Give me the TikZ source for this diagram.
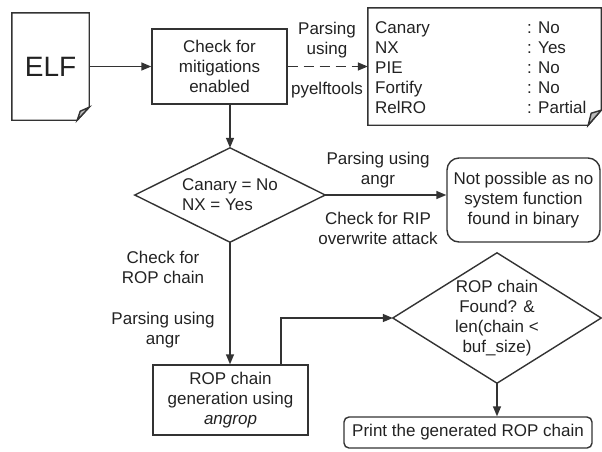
\documentclass[tikz,border=0pt]{standalone}
\usepackage{fontspec}
\setmainfont{Liberation Sans}
\usetikzlibrary{arrows.meta}
\definecolor{lc}{HTML}{333333}
\definecolor{txt}{HTML}{222222}
\definecolor{flap}{HTML}{BBBBBB}
\begin{document}
\begin{tikzpicture}[x=1pt,y=-1pt,
  every node/.style={font=\fontsize{17}{20}\selectfont, text=txt},
  ln/.style={draw=lc, line width=1.4pt},
  arr/.style={ln, -{Triangle[length=10pt,width=8pt]}},
  box/.style={ln, rectangle, inner sep=0pt, align=center},
  lbl/.style={align=center, inner sep=0pt},
  anchorbox/.style={rectangle, inner sep=0pt, draw=none},
]
\useasboundingbox (0,0) rectangle (602,451);

% ELF document
\node[anchorbox, minimum width=77pt, minimum height=107pt,
      font=\fontsize{28}{30}\selectfont] (elf) at (50.5,66.5) {ELF};
\draw[ln] (elf.north west) -- (elf.north east) -- ([yshift=13pt]elf.south east)
  -- ([xshift=-12pt]elf.south east) -- (elf.south west) -- cycle;
\draw[ln, fill=flap] ([yshift=13pt]elf.south east) -- ([xshift=-9pt,yshift=9pt]elf.south east)
  -- ([xshift=-12pt]elf.south east) -- cycle;

% Check box
\node[box, minimum width=135pt, minimum height=75pt] (check) at (219.5,66.5) {Check for\\mitigations\\enabled};
\draw[arr] (elf.east) -- (check.west);

% Mitigation box
\node[anchorbox, minimum width=233pt, minimum height=117pt] (mit) at (484.5,66.5) {};
\draw[ln] ([yshift=15pt]mit.south east) -- (mit.north east) -- (mit.north west)
  -- (mit.south west) -- ([xshift=-13pt]mit.south east) -- cycle;
\draw[ln, fill=flap] ([xshift=-13pt]mit.south east) -- ([yshift=15pt]mit.south east)
  -- ([xshift=-10pt,yshift=12pt]mit.south east) -- cycle;
\node[anchor=north west, inner sep=0pt] (mittab) at (375,19) {\begin{tabular}{@{}p{152pt}@{}l@{}}
Canary & : No\\
NX & : Yes\\
PIE & : No\\
Fortify & : No\\
RelRO & : Partial
\end{tabular}};
\draw[arr, dash pattern=on 10pt off 6pt] (check.east) -- (mit.west);
\node[lbl] (lp1) at (327,40) {Parsing\\using};
\node[lbl] (lp2) at (327,90) {pyelftools};

% Diamond 1
\node[anchorbox, minimum width=190pt, minimum height=94pt, align=left] (d1) at (230,195) {Canary = No\\NX = Yes};
\draw[ln] (d1.north) -- (d1.east) -- (d1.south) -- (d1.west) -- cycle;
\draw[arr] (check.south -| d1.north) -- (d1.north);

% Not possible box
\node[box, rounded corners=12pt, minimum width=153pt, minimum height=84pt] (np) at (523.5,200) {Not possible as no\\system function\\found in binary};
\draw[arr] (d1.east) -- (d1.east -| np.west);
\node[lbl] (la1) at (378,170) {Parsing using\\angr};
\node[lbl] (la2) at (378,228) {Check for RIP\\overwrite attack};

% ROP box
\node[box, minimum width=155pt, minimum height=70pt] (rop) at (230.5,400) {ROP chain\\generation using\\\textit{angrop}};
\draw[arr] (d1.south) -- (d1.south |- rop.north);
\node[lbl] (lr1) at (163,267) {Check for\\ROP chain};
\node[lbl] (lr2) at (163,330) {Parsing using\\angr};

% Diamond 2
\node[anchorbox, minimum width=208pt, minimum height=130pt, align=center] (d2) at (497,318) {ROP chain\\Found? \&\\len(chain <\\buf\_size)};
\draw[ln] (d2.north) -- (d2.east) -- (d2.south) -- (d2.west) -- cycle;
\draw[arr] ([xshift=50.5pt]rop.north) |- (d2.west);

% Print box
\node[box, rounded corners=5pt, minimum width=248pt, minimum height=31pt] (print) at (468,432.5) {Print the generated ROP chain};
\draw[arr] (d2.south) -- (d2.south |- print.north);
\end{tikzpicture}
\end{document}
